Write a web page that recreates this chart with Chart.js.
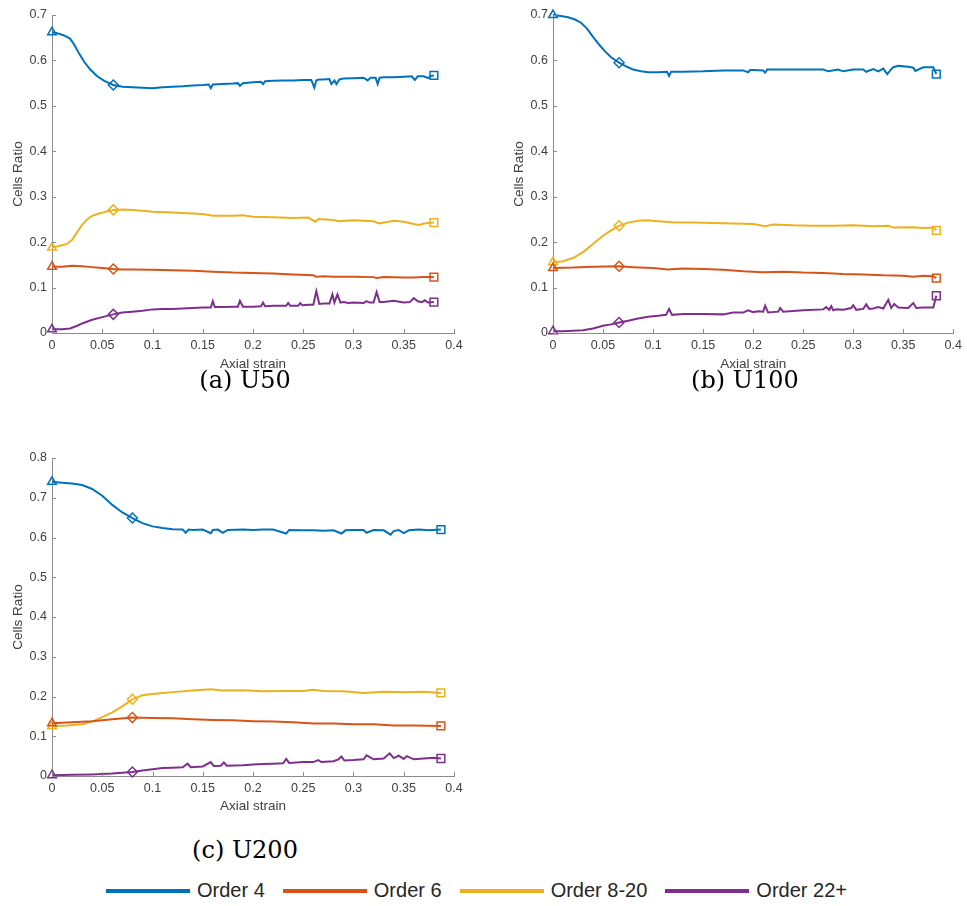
<!DOCTYPE html>
<html>
<head>
<meta charset="utf-8">
<script src="https://cdn.jsdelivr.net/npm/chart.js@4.4.0/dist/chart.umd.min.js"></script>
<style>
  body { margin: 0; background: #fff; width: 967px; height: 906px; position: relative; overflow: hidden; }
  .panel { position: absolute; }
  .caption { position: absolute; transform: translateX(-50%); font-family: 'DejaVu Serif', 'Liberation Serif', serif; font-size: 24px; color: #000; white-space: nowrap; }
  .legend { position: absolute; left: 106px; top: 879px; display: flex; align-items: center; font-family: 'Liberation Sans', Arial, sans-serif; font-size: 20px; color: #262626; }
  .legend .ln { width: 84px; height: 4px; margin-right: 7px; }
  .legend .tx { margin-right: 18px; }
</style>
</head>
<body>

<div class="panel" style="left:0;top:0;width:480px;height:375px"><canvas id="chartA"></canvas></div>
<div class="panel" style="left:501px;top:0;width:466px;height:375px"><canvas id="chartB"></canvas></div>
<div class="panel" style="left:0;top:430px;width:480px;height:387px"><canvas id="chartC"></canvas></div>

<div class="caption" style="left:245px;top:366px">(a) U50</div>
<div class="caption" style="left:745px;top:366px">(b) U100</div>
<div class="caption" style="left:245px;top:836px">(c) U200</div>

<div class="legend" id="legend"></div>

<script>
// series names and colours
const seriesNames = ['Order 4', 'Order 6', 'Order 8-20', 'Order 22+'];
const seriesColors = ['#0072BD', '#D95319', '#EDB120', '#7E2F8E'];

// axis ticks
const xTicks = [0, 0.05, 0.1, 0.15, 0.2, 0.25, 0.3, 0.35, 0.4];
const xTickLabels = ['0', '0.05', '0.1', '0.15', '0.2', '0.25', '0.3', '0.35', '0.4'];
const yTicksAB = [0, 0.1, 0.2, 0.3, 0.4, 0.5, 0.6, 0.7];
const yTickLabelsAB = ['0', '0.1', '0.2', '0.3', '0.4', '0.5', '0.6', '0.7'];
const yTicksC = [0, 0.1, 0.2, 0.3, 0.4, 0.5, 0.6, 0.7, 0.8];
const yTickLabelsC = ['0', '0.1', '0.2', '0.3', '0.4', '0.5', '0.6', '0.7', '0.8'];

// strain where the middle marker sits
const midStrainA = 0.061;
const midStrainB = 0.066;
const midStrainC = 0.08;

// ---- (a) U50 ----
const a4x = [0, 0.005, 0.012, 0.018, 0.022, 0.027, 0.032, 0.038, 0.045, 0.052, 0.061, 0.07, 0.08, 0.09, 0.1, 0.11, 0.12, 0.13, 0.14, 0.15, 0.156, 0.158, 0.16, 0.17, 0.18, 0.185, 0.187, 0.19, 0.2, 0.208, 0.21, 0.212, 0.22, 0.23, 0.24, 0.25, 0.258, 0.261, 0.263, 0.266, 0.27, 0.276, 0.278, 0.281, 0.283, 0.286, 0.29, 0.3, 0.31, 0.314, 0.317, 0.322, 0.324, 0.326, 0.33, 0.34, 0.35, 0.358, 0.361, 0.364, 0.37, 0.374, 0.377, 0.38];
const a4y = [0.662, 0.66, 0.655, 0.648, 0.635, 0.615, 0.597, 0.58, 0.565, 0.555, 0.546, 0.542, 0.541, 0.540, 0.539, 0.541, 0.542, 0.543, 0.545, 0.546, 0.547, 0.539, 0.547, 0.548, 0.549, 0.55, 0.544, 0.55, 0.552, 0.553, 0.548, 0.554, 0.555, 0.556, 0.556, 0.557, 0.557, 0.54, 0.556, 0.558, 0.558, 0.559, 0.548, 0.556, 0.548, 0.558, 0.56, 0.561, 0.562, 0.556, 0.562, 0.562, 0.548, 0.562, 0.563, 0.563, 0.564, 0.565, 0.557, 0.565, 0.565, 0.561, 0.566, 0.567];
const a6x = [0, 0.01, 0.02, 0.03, 0.04, 0.05, 0.061, 0.07, 0.08, 0.1, 0.12, 0.14, 0.16, 0.18, 0.2, 0.22, 0.24, 0.26, 0.263, 0.27, 0.28, 0.3, 0.32, 0.323, 0.33, 0.35, 0.36, 0.37, 0.38];
const a6y = [0.146, 0.146, 0.148, 0.147, 0.145, 0.143, 0.141, 0.14, 0.14, 0.139, 0.138, 0.137, 0.135, 0.133, 0.132, 0.131, 0.129, 0.127, 0.124, 0.125, 0.124, 0.124, 0.123, 0.121, 0.123, 0.122, 0.122, 0.123, 0.123];
const a8x = [0, 0.008, 0.015, 0.02, 0.025, 0.03, 0.035, 0.04, 0.045, 0.05, 0.055, 0.061, 0.07, 0.08, 0.09, 0.1, 0.12, 0.14, 0.15, 0.16, 0.18, 0.19, 0.2, 0.22, 0.24, 0.255, 0.262, 0.265, 0.28, 0.285, 0.3, 0.32, 0.325, 0.34, 0.35, 0.36, 0.365, 0.37, 0.38];
const a8y = [0.188, 0.192, 0.196, 0.205, 0.222, 0.238, 0.25, 0.258, 0.262, 0.265, 0.268, 0.271, 0.272, 0.271, 0.269, 0.267, 0.265, 0.263, 0.262, 0.258, 0.258, 0.259, 0.256, 0.255, 0.253, 0.254, 0.245, 0.251, 0.249, 0.246, 0.248, 0.246, 0.241, 0.247, 0.245, 0.24, 0.238, 0.241, 0.243];
const a22x = [0, 0.01, 0.018, 0.025, 0.03, 0.04, 0.05, 0.061, 0.07, 0.08, 0.09, 0.1, 0.11, 0.12, 0.13, 0.14, 0.15, 0.158, 0.16, 0.162, 0.17, 0.18, 0.185, 0.187, 0.19, 0.2, 0.208, 0.21, 0.212, 0.22, 0.233, 0.235, 0.237, 0.245, 0.247, 0.249, 0.255, 0.26, 0.263, 0.266, 0.27, 0.276, 0.279, 0.281, 0.284, 0.287, 0.29, 0.295, 0.3, 0.31, 0.313, 0.316, 0.32, 0.323, 0.326, 0.33, 0.34, 0.35, 0.356, 0.36, 0.364, 0.368, 0.371, 0.374, 0.38];
const a22y = [0.008, 0.008, 0.01, 0.016, 0.021, 0.029, 0.035, 0.041, 0.045, 0.047, 0.049, 0.052, 0.053, 0.053, 0.054, 0.055, 0.056, 0.056, 0.07, 0.057, 0.057, 0.058, 0.058, 0.071, 0.058, 0.058, 0.059, 0.067, 0.059, 0.06, 0.06, 0.066, 0.06, 0.06, 0.066, 0.061, 0.062, 0.062, 0.092, 0.064, 0.065, 0.065, 0.085, 0.067, 0.085, 0.067, 0.068, 0.066, 0.067, 0.066, 0.07, 0.067, 0.067, 0.09, 0.068, 0.068, 0.071, 0.067, 0.068, 0.077, 0.07, 0.068, 0.072, 0.067, 0.068];

// ---- (b) U100 ----
const b4x = [0, 0.008, 0.015, 0.022, 0.028, 0.034, 0.04, 0.046, 0.052, 0.058, 0.066, 0.073, 0.08, 0.088, 0.095, 0.105, 0.114, 0.116, 0.118, 0.13, 0.15, 0.17, 0.19, 0.195, 0.197, 0.2, 0.21, 0.212, 0.214, 0.23, 0.25, 0.27, 0.275, 0.285, 0.29, 0.3, 0.31, 0.313, 0.32, 0.325, 0.33, 0.334, 0.337, 0.34, 0.345, 0.355, 0.36, 0.362, 0.37, 0.38, 0.383];
const b4y = [0.7, 0.698, 0.695, 0.69, 0.683, 0.67, 0.652, 0.635, 0.62, 0.607, 0.595, 0.587, 0.58, 0.576, 0.574, 0.574, 0.575, 0.566, 0.575, 0.575, 0.576, 0.578, 0.578, 0.574, 0.579, 0.579, 0.578, 0.573, 0.58, 0.58, 0.58, 0.58, 0.576, 0.58, 0.576, 0.58, 0.58, 0.575, 0.581, 0.576, 0.582, 0.57, 0.578, 0.585, 0.588, 0.586, 0.584, 0.577, 0.585, 0.585, 0.57];
const b6x = [0, 0.02, 0.04, 0.066, 0.08, 0.1, 0.115, 0.13, 0.15, 0.17, 0.19, 0.21, 0.23, 0.25, 0.27, 0.29, 0.31, 0.33, 0.35, 0.36, 0.37, 0.38, 0.383];
const b6y = [0.143, 0.144, 0.146, 0.147, 0.145, 0.143, 0.14, 0.142, 0.141, 0.139, 0.136, 0.134, 0.135, 0.133, 0.132, 0.13, 0.129, 0.127, 0.126, 0.124, 0.126, 0.125, 0.121];
const b8x = [0, 0.01, 0.02, 0.03, 0.04, 0.05, 0.058, 0.066, 0.075, 0.085, 0.095, 0.105, 0.12, 0.14, 0.16, 0.18, 0.2, 0.212, 0.22, 0.24, 0.26, 0.28, 0.3, 0.32, 0.335, 0.34, 0.36, 0.37, 0.38, 0.383];
const b8y = [0.156, 0.158, 0.165, 0.178, 0.196, 0.214, 0.226, 0.236, 0.243, 0.247, 0.248, 0.246, 0.244, 0.243, 0.242, 0.241, 0.24, 0.235, 0.239, 0.237, 0.236, 0.236, 0.237, 0.235, 0.236, 0.232, 0.233, 0.231, 0.232, 0.226];
const b22x = [0, 0.01, 0.02, 0.03, 0.04, 0.05, 0.058, 0.066, 0.075, 0.085, 0.095, 0.105, 0.113, 0.116, 0.119, 0.13, 0.15, 0.17, 0.18, 0.19, 0.195, 0.2, 0.205, 0.21, 0.212, 0.215, 0.225, 0.227, 0.23, 0.25, 0.27, 0.273, 0.276, 0.278, 0.28, 0.283, 0.29, 0.298, 0.3, 0.303, 0.31, 0.313, 0.316, 0.32, 0.325, 0.33, 0.335, 0.338, 0.341, 0.345, 0.355, 0.36, 0.363, 0.37, 0.38, 0.383];
const b22y = [0.004, 0.004, 0.005, 0.006, 0.01, 0.016, 0.019, 0.023, 0.027, 0.032, 0.036, 0.038, 0.04, 0.053, 0.04, 0.042, 0.042, 0.041, 0.045, 0.045, 0.05, 0.046, 0.048, 0.047, 0.06, 0.045, 0.047, 0.055, 0.047, 0.05, 0.052, 0.057, 0.051, 0.059, 0.05, 0.052, 0.051, 0.055, 0.061, 0.051, 0.053, 0.063, 0.053, 0.054, 0.057, 0.054, 0.073, 0.055, 0.064, 0.056, 0.055, 0.066, 0.055, 0.056, 0.056, 0.082];

// ---- (c) U200 ----
const c4x = [0, 0.01, 0.02, 0.03, 0.04, 0.05, 0.06, 0.07, 0.08, 0.09, 0.1, 0.11, 0.12, 0.13, 0.133, 0.136, 0.14, 0.15, 0.158, 0.16, 0.165, 0.17, 0.175, 0.19, 0.2, 0.21, 0.22, 0.233, 0.236, 0.25, 0.26, 0.27, 0.28, 0.288, 0.292, 0.3, 0.31, 0.313, 0.32, 0.33, 0.337, 0.34, 0.345, 0.35, 0.355, 0.365, 0.375, 0.387];
const c4y = [0.74, 0.738, 0.736, 0.732, 0.722, 0.705, 0.682, 0.663, 0.649, 0.636, 0.628, 0.624, 0.621, 0.62, 0.612, 0.62, 0.619, 0.62, 0.611, 0.619, 0.62, 0.612, 0.619, 0.62, 0.619, 0.62, 0.62, 0.61, 0.619, 0.618, 0.618, 0.617, 0.618, 0.61, 0.618, 0.619, 0.619, 0.612, 0.619, 0.618, 0.607, 0.616, 0.619, 0.611, 0.618, 0.62, 0.618, 0.62];
const c6x = [0, 0.02, 0.04, 0.06, 0.08, 0.1, 0.12, 0.14, 0.16, 0.18, 0.2, 0.22, 0.24, 0.26, 0.28, 0.3, 0.32, 0.34, 0.36, 0.387];
const c6y = [0.133, 0.135, 0.138, 0.143, 0.147, 0.146, 0.145, 0.143, 0.141, 0.14, 0.138, 0.137, 0.135, 0.132, 0.132, 0.13, 0.13, 0.127, 0.127, 0.126];
const c8x = [0, 0.015, 0.03, 0.04, 0.05, 0.06, 0.07, 0.08, 0.09, 0.1, 0.11, 0.12, 0.14, 0.158, 0.17, 0.19, 0.21, 0.23, 0.25, 0.26, 0.27, 0.29, 0.31, 0.33, 0.35, 0.37, 0.387];
const c8y = [0.125, 0.127, 0.13, 0.137, 0.148, 0.16, 0.175, 0.193, 0.203, 0.206, 0.209, 0.211, 0.215, 0.218, 0.215, 0.216, 0.213, 0.214, 0.214, 0.217, 0.214, 0.213, 0.209, 0.212, 0.211, 0.212, 0.209];
const c22x = [0, 0.02, 0.04, 0.06, 0.08, 0.09, 0.1, 0.11, 0.12, 0.13, 0.135, 0.138, 0.15, 0.158, 0.161, 0.168, 0.171, 0.174, 0.19, 0.2, 0.21, 0.22, 0.23, 0.233, 0.236, 0.25, 0.26, 0.265, 0.268, 0.28, 0.285, 0.288, 0.291, 0.3, 0.31, 0.313, 0.32, 0.33, 0.336, 0.34, 0.345, 0.35, 0.353, 0.36, 0.37, 0.38, 0.387];
const c22y = [0.002, 0.003, 0.004, 0.006, 0.01, 0.014, 0.017, 0.02, 0.021, 0.022, 0.031, 0.022, 0.024, 0.035, 0.025, 0.026, 0.034, 0.026, 0.027, 0.029, 0.03, 0.031, 0.032, 0.043, 0.033, 0.035, 0.035, 0.04, 0.035, 0.037, 0.042, 0.049, 0.039, 0.04, 0.042, 0.052, 0.042, 0.044, 0.057, 0.045, 0.051, 0.043, 0.05, 0.042, 0.044, 0.046, 0.044];

const AXIS_COLOR = '#8c8c8c';
const TEXT_COLOR = '#404040';
const FONT = "'Liberation Sans', Arial, sans-serif";

// MATLAB-style ticks pointing into the plot
const innerTicks = {
  id: 'innerTicks',
  afterDraw(chart) {
    const ctx = chart.ctx;
    const xs = chart.scales.x, ys = chart.scales.y;
    const area = chart.chartArea;
    ctx.save();
    ctx.strokeStyle = AXIS_COLOR;
    ctx.lineWidth = 1;
    ctx.beginPath();
    xs.ticks.forEach(t => {
      const px = Math.round(xs.getPixelForValue(t.value)) + 0.5;
      ctx.moveTo(px, area.bottom);
      ctx.lineTo(px, area.bottom - 4);
    });
    ys.ticks.forEach(t => {
      const py = Math.round(ys.getPixelForValue(t.value)) + 0.5;
      ctx.moveTo(area.left, py);
      ctx.lineTo(area.left + 4, py);
    });
    ctx.stroke();
    ctx.restore();
  }
};

function buildDatasets(xsList, ysList, midStrain) {
  return xsList.map((xs, i) => {
    const ys = ysList[i];
    const last = xs.length - 1;
    const mid = xs.indexOf(midStrain);
    const styleOf = k => k === 0 ? 'triangle' : (k === last ? 'rect' : (k === mid ? 'rectRot' : false));
    return {
      label: seriesNames[i],
      data: xs.map((x, k) => ({ x: x, y: ys[k] })),
      borderColor: seriesColors[i],
      backgroundColor: 'rgba(0,0,0,0)',
      borderWidth: 2,
      tension: 0,
      clip: false,
      pointStyle: c => styleOf(c.dataIndex) || 'circle',
      pointRadius: c => {
        const s = styleOf(c.dataIndex);
        if (s === 'rect') return 5.5;
        if (s) return 5;
        return 0;
      },
      pointBorderColor: seriesColors[i],
      pointBackgroundColor: 'rgba(0,0,0,0)',
      pointBorderWidth: 1.5
    };
  });
}

function makePanel(id, datasets, yMax, yTicks, yLabels, pad, xHeight) {
  new Chart(document.getElementById(id), {
    type: 'line',
    data: { datasets: datasets },
    options: {
      responsive: true,
      maintainAspectRatio: false,
      animation: false,
      events: [],
      layout: { padding: pad },
      plugins: { legend: { display: false }, tooltip: { enabled: false } },
      scales: {
        x: {
          type: 'linear', min: 0, max: 0.4,
          afterBuildTicks: s => { s.ticks = xTicks.map(v => ({ value: v })); },
          afterFit: s => { s.height = xHeight; },
          ticks: {
            autoSkip: false, maxRotation: 0, padding: 5, color: TEXT_COLOR,
            font: { family: FONT, size: 12.5 },
            callback: v => xTickLabels[xTicks.indexOf(v)]
          },
          grid: { display: true, drawOnChartArea: false, drawTicks: false },
          border: { display: true, color: AXIS_COLOR, width: 1 },
          title: { display: true, text: 'Axial strain', color: TEXT_COLOR, font: { family: FONT, size: 13.5 }, padding: { top: 0, bottom: 3 } }
        },
        y: {
          type: 'linear', min: 0, max: yMax,
          afterBuildTicks: s => { s.ticks = yTicks.map(v => ({ value: v })); },
          afterFit: s => { s.width = 52; },
          ticks: {
            autoSkip: false, padding: 5, color: TEXT_COLOR,
            font: { family: FONT, size: 12.5 },
            callback: v => yLabels[yTicks.indexOf(v)]
          },
          grid: { display: true, drawOnChartArea: false, drawTicks: false },
          border: { display: true, color: AXIS_COLOR, width: 1 },
          title: { display: true, text: 'Cells Ratio', color: TEXT_COLOR, font: { family: FONT, size: 13.5 }, padding: { top: 10, bottom: 0 } }
        }
      }
    },
    plugins: [innerTicks]
  });
}

makePanel('chartA', buildDatasets([a4x, a6x, a8x, a22x], [a4y, a6y, a8y, a22y], midStrainA),
  0.7, yTicksAB, yTickLabelsAB, { top: 15, right: 26, left: 0, bottom: 0 }, 42);
makePanel('chartB', buildDatasets([b4x, b6x, b8x, b22x], [b4y, b6y, b8y, b22y], midStrainB),
  0.7, yTicksAB, yTickLabelsAB, { top: 15, right: 12, left: 0, bottom: 0 }, 42);
makePanel('chartC', buildDatasets([c4x, c6x, c8x, c22x], [c4y, c6y, c8y, c22y], midStrainC),
  0.8, yTicksC, yTickLabelsC, { top: 28, right: 26, left: 0, bottom: 0 }, 41);

// shared legend under the panels
const legend = document.getElementById('legend');
seriesNames.forEach((name, i) => {
  const ln = document.createElement('span');
  ln.className = 'ln';
  ln.style.background = seriesColors[i];
  const tx = document.createElement('span');
  tx.className = 'tx';
  tx.textContent = name;
  legend.appendChild(ln);
  legend.appendChild(tx);
});
</script>
</body>
</html>
